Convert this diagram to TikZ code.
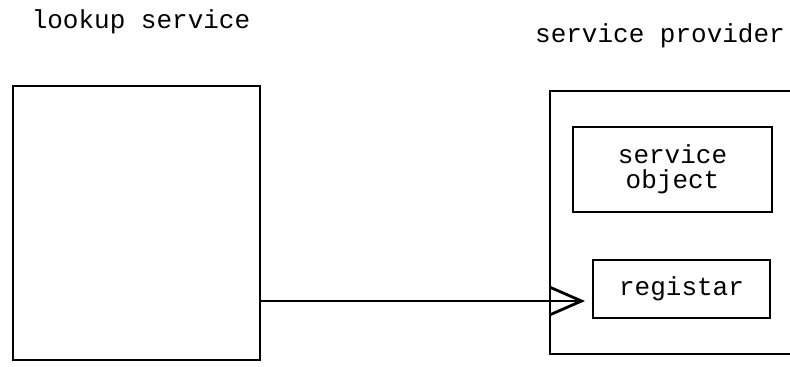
\documentclass[tikz,border=0pt]{standalone}
\usepackage{fontspec}
\setmainfont{Liberation Mono}
\usetikzlibrary{arrows.meta, positioning}

\begin{document}
\begin{tikzpicture}[
    x=0.5pt, y=-0.5pt,
    >={Straight Barb[length=16pt, width=14pt]},
    box/.style={draw, line width=1.4pt, inner sep=0pt, outer sep=0pt},
    lbl/.style={font=\fontsize{13}{12.4}\selectfont}
  ]
  \useasboundingbox (0,0) rectangle (790,366);
  \clip (0,0) rectangle (790,366);

  % Lookup service
  \node[lbl] (lookuplbl) at (141, 22) {lookup service};
  \node[box, minimum width=123.5pt, minimum height=137pt] (lookup) at (136.5, 223) {};

  % Service provider (runs off the right edge)
  \node[lbl] (providerlbl) at (660, 36) {service provider};
  \node[box, minimum width=140pt, minimum height=131.5pt] (provider) at (690, 222.5) {};
  \node[box, lbl, align=center, minimum width=99.5pt, minimum height=42.5pt] (svcobj) at (672.5, 169.5) {service\\object};
  \node[box, lbl, minimum width=88.5pt, minimum height=29pt] (registar) at (681.5, 289) {registar};

  % Registration
  \coordinate (regin) at ([yshift=-6pt]registar.west);
  \draw[->, line width=1.4pt, shorten >=4pt] (lookup.east |- regin) -- (regin);
\end{tikzpicture}
\end{document}
